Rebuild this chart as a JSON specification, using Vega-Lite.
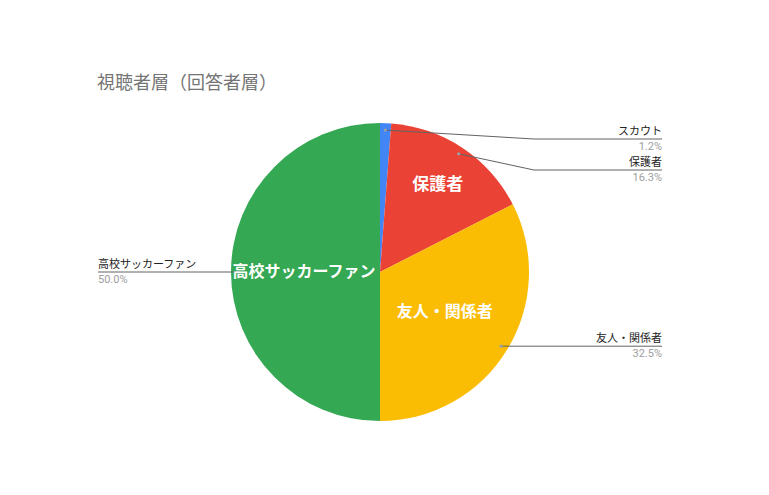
{
  "$schema": "https://vega.github.io/schema/vega-lite/v6.json",
  "autosize": "none",
  "width": 600,
  "height": 314,
  "padding": {"left": 80, "top": 115, "right": 89, "bottom": 66},
  "background": "white",
  "title": {
    "text": "視聴者層（回答者層）",
    "anchor": "start",
    "frame": "group",
    "dx": 17,
    "offset": 8,
    "baseline": "alphabetic",
    "font": "Noto Sans CJK JP",
    "fontSize": 18,
    "fontWeight": "normal",
    "color": "#757575"
  },
  "config": {"view": {"stroke": null}},
  "data": {
    "values": [
      {"order": 1, "label": "スカウト", "value": 1.2},
      {"order": 2, "label": "保護者", "value": 16.3},
      {"order": 3, "label": "友人・関係者", "value": 32.5},
      {"order": 4, "label": "高校サッカーファン", "value": 50.0}
    ]
  },
  "transform": [
    {"stack": "value", "groupby": [], "sort": [{"field": "order", "order": "ascending"}], "as": ["v0", "v1"]},
    {"calculate": "(datum.v0 + datum.v1) / 2", "as": "mid"},
    {"calculate": "datum.mid / 100 * 2 * PI", "as": "ang"},
    {"calculate": "142 * sin(datum.ang)", "as": "dx"},
    {"calculate": "142 * cos(datum.ang)", "as": "dy"},
    {"calculate": "datum.dx >= 0 ? 'right' : 'left'", "as": "side"},
    {"calculate": "min(datum.dy, 133)", "as": "ly0"},
    {"window": [{"op": "lag", "field": "ly0", "as": "prev"}], "sort": [{"field": "mid", "order": "ascending"}], "groupby": ["side"]},
    {"calculate": "datum.prev == null ? datum.ly0 : min(datum.ly0, datum.prev - 31)", "as": "ly"},
    {"calculate": "datum.side == 'right' ? max(datum.dx, 154) : min(datum.dx, -154)", "as": "ex"},
    {"calculate": "datum.side == 'right' ? 282 : -282", "as": "endx"},
    {"calculate": "format(datum.value / 100, '.1%')", "as": "pctText"}
  ],
  "layer": [
    {
      "mark": {"type": "arc", "outerRadius": 149},
      "encoding": {
        "theta": {"field": "v0", "type": "quantitative", "stack": null, "scale": {"domain": [0, 100]}},
        "theta2": {"field": "v1"},
        "color": {
          "field": "label",
          "type": "nominal",
          "legend": null,
          "scale": {
            "domain": ["スカウト", "保護者", "友人・関係者", "高校サッカーファン"],
            "range": ["#4285F4", "#EA4335", "#FBBC04", "#34A853"]
          }
        }
      }
    },
    {
      "mark": {"type": "rule", "color": "#636363", "strokeWidth": 1},
      "encoding": {
        "x": {"field": "dx", "type": "quantitative", "axis": null, "scale": {"domain": [-300, 300], "nice": false, "zero": false}},
        "y": {"field": "dy", "type": "quantitative", "axis": null, "scale": {"domain": [-157, 157], "nice": false, "zero": false}},
        "x2": {"field": "ex"},
        "y2": {"field": "ly"}
      }
    },
    {
      "mark": {"type": "rule", "color": "#636363", "strokeWidth": 1},
      "encoding": {
        "x": {"field": "ex", "type": "quantitative"},
        "y": {"field": "ly", "type": "quantitative"},
        "x2": {"field": "endx"}
      }
    },
    {
      "mark": {"type": "point", "filled": true, "color": "#9aa0a6", "size": 10, "opacity": 1},
      "encoding": {
        "x": {"field": "dx", "type": "quantitative"},
        "y": {"field": "dy", "type": "quantitative"}
      }
    },
    {
      "transform": [{"filter": "datum.value > 5 && datum.value < 25"}],
      "mark": {"type": "text", "radius": 104, "font": "Noto Sans CJK JP", "fontSize": 17, "fontWeight": "bold", "color": "white", "align": "center", "baseline": "middle"},
      "encoding": {
        "theta": {"field": "mid", "type": "quantitative", "stack": null, "scale": {"domain": [0, 100]}},
        "text": {"field": "label"}
      }
    },
    {
      "transform": [{"filter": "datum.value >= 25"}],
      "mark": {"type": "text", "radius": 76, "font": "Noto Sans CJK JP", "fontSize": 16, "fontWeight": "bold", "color": "white", "align": "center", "baseline": "middle"},
      "encoding": {
        "theta": {"field": "mid", "type": "quantitative", "stack": null, "scale": {"domain": [0, 100]}},
        "text": {"field": "label"}
      }
    },
    {
      "transform": [{"filter": "datum.side == 'right'"}],
      "mark": {"type": "text", "align": "right", "baseline": "middle", "dy": -7, "font": "Noto Sans CJK JP", "fontSize": 11, "color": "#222222"},
      "encoding": {
        "x": {"field": "endx", "type": "quantitative"},
        "y": {"field": "ly", "type": "quantitative"},
        "text": {"field": "label"}
      }
    },
    {
      "transform": [{"filter": "datum.side == 'right'"}],
      "mark": {"type": "text", "align": "right", "baseline": "middle", "dy": 8, "font": "Roboto", "fontSize": 11, "color": "#9e9e9e"},
      "encoding": {
        "x": {"field": "endx", "type": "quantitative"},
        "y": {"field": "ly", "type": "quantitative"},
        "text": {"field": "pctText"}
      }
    },
    {
      "transform": [{"filter": "datum.side == 'left'"}],
      "mark": {"type": "text", "align": "left", "baseline": "middle", "dy": -7, "font": "Noto Sans CJK JP", "fontSize": 11, "color": "#222222"},
      "encoding": {
        "x": {"field": "endx", "type": "quantitative"},
        "y": {"field": "ly", "type": "quantitative"},
        "text": {"field": "label"}
      }
    },
    {
      "transform": [{"filter": "datum.side == 'left'"}],
      "mark": {"type": "text", "align": "left", "baseline": "middle", "dy": 8, "font": "Roboto", "fontSize": 11, "color": "#9e9e9e"},
      "encoding": {
        "x": {"field": "endx", "type": "quantitative"},
        "y": {"field": "ly", "type": "quantitative"},
        "text": {"field": "pctText"}
      }
    }
  ]
}
